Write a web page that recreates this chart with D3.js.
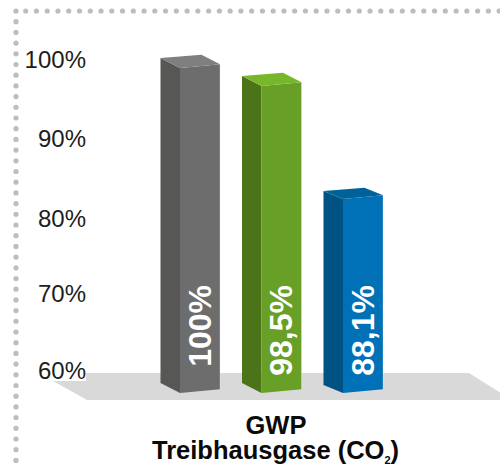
<!DOCTYPE html>
<html><head><meta charset="utf-8">
<script src="https://d3js.org/d3.v7.min.js"></script>
<style>html,body{margin:0;padding:0;background:#fff}svg{display:block}</style>
</head><body><div id="c"></div>
<script>
const categories = ["A", "B", "C"];
const values = [100, 98.5, 88.1];
const barLabels = ["100%", "98,5%", "88,1%"];
const tickValues = [60, 70, 80, 90, 100];
const frontColors = ["#6d6d6d", "#689f27", "#0071b6"];
const topColors = ["#7f7f7f", "#76b82a", "#00629b"];
const sideColors = ["#575756", "#4b7318", "#005282"];
const titleLine1 = "GWP";
const titleLine2 = "Treibhausgase (CO";

const W = 500, H = 465;
const svg = d3.select("#c").append("svg").attr("width", W).attr("height", H);
const font = "'Liberation Sans', Arial, sans-serif";

// dotted frame
const dots = [16].concat(d3.range(25.7, W + 5, 10.76));
const dotsV = d3.range(21.7, H + 5, 10.7);
svg.append("g").selectAll("circle").data(dots).join("circle")
  .attr("cx", d => d).attr("cy", 11).attr("r", 2.6).attr("fill", "#bdbdbd");
svg.append("g").selectAll("circle").data(dotsV).join("circle")
  .attr("cx", 16).attr("cy", d => d).attr("r", 2.6).attr("fill", "#bdbdbd");

// floor
svg.append("path").attr("fill", "#d9d9d9")
  .attr("d", d3.line()([[86, 373], [469, 373], [512, 400], [87, 400], [53, 381], [86, 381]]) + "Z");

// scales
const yTick = d3.scaleLinear().domain(tickValues).range([371, 294, 219, 139, 60]);
const yBar = d3.scaleLinear().domain([88.1, 98.5, 100]).range([199, 86, 68]);
const x = d3.scaleBand().domain(categories).range([180, 383]).paddingInner(0.509).paddingOuter(0);
const baseFront = 393, depthX = 19.5, backRise = 10, skew = 3.7;

// axis
const axis = d3.axisLeft(yTick).tickValues(tickValues).tickSize(0).tickPadding(0).tickFormat(d => d + "%");
const ag = svg.append("g").attr("transform", "translate(86,0)").call(axis);
ag.select(".domain").remove();
ag.selectAll("text").attr("font-family", font).attr("font-size", 24).attr("fill", "#1d1d1b");

// bars
const bars = svg.append("g").selectAll("g").data(categories).join("g");
bars.each(function (c, i) {
  const g = d3.select(this);
  const x0 = x(c), x1 = x0 + x.bandwidth();
  const yf = yBar(values[i]);
  const rise = i === 2 ? 8 : backRise;
  const left = [x0 - depthX, yf - rise];
  const line = d3.line();
  g.append("path").attr("fill", sideColors[i])
    .attr("d", line([left, [x0, yf], [x0, baseFront], [x0 - depthX, baseFront - rise]]) + "Z");
  g.append("path").attr("fill", frontColors[i])
    .attr("d", line([[x0, yf], [x1, yf - skew], [x1, baseFront - skew], [x0, baseFront]]) + "Z");
  g.append("path").attr("fill", topColors[i])
    .attr("d", line([left, [x1 - depthX + 1, yf - rise - skew + 0.5], [x1, yf - skew], [x0, yf]]) + "Z");
  g.append("path").attr("fill", "none").attr("stroke", "#fff").attr("stroke-opacity", 0.25)
    .attr("d", line([[x1, yf - skew], [x1, baseFront - skew]]));
  g.append("text").text(barLabels[i])
    .attr("transform", `translate(${x0 + 31},285) rotate(-90)`)
    .attr("text-anchor", "end").attr("fill", "#fff")
    .attr("font-family", font).attr("font-weight", "bold").attr("font-size", 32);
});

// title
const t = svg.append("g").attr("font-family", font).attr("font-weight", "bold")
  .attr("font-size", 25.5).attr("fill", "#0a0a0a").attr("text-anchor", "middle");
t.append("text").attr("x", 276).attr("y", 434).text(titleLine1);
const t2 = t.append("text").attr("x", 275.5).attr("y", 459);
t2.append("tspan").text(titleLine2);
t2.append("tspan").attr("font-size", 11).attr("dy", 5).text("2");
t2.append("tspan").attr("dy", -5).text(")");
</script></body></html>
